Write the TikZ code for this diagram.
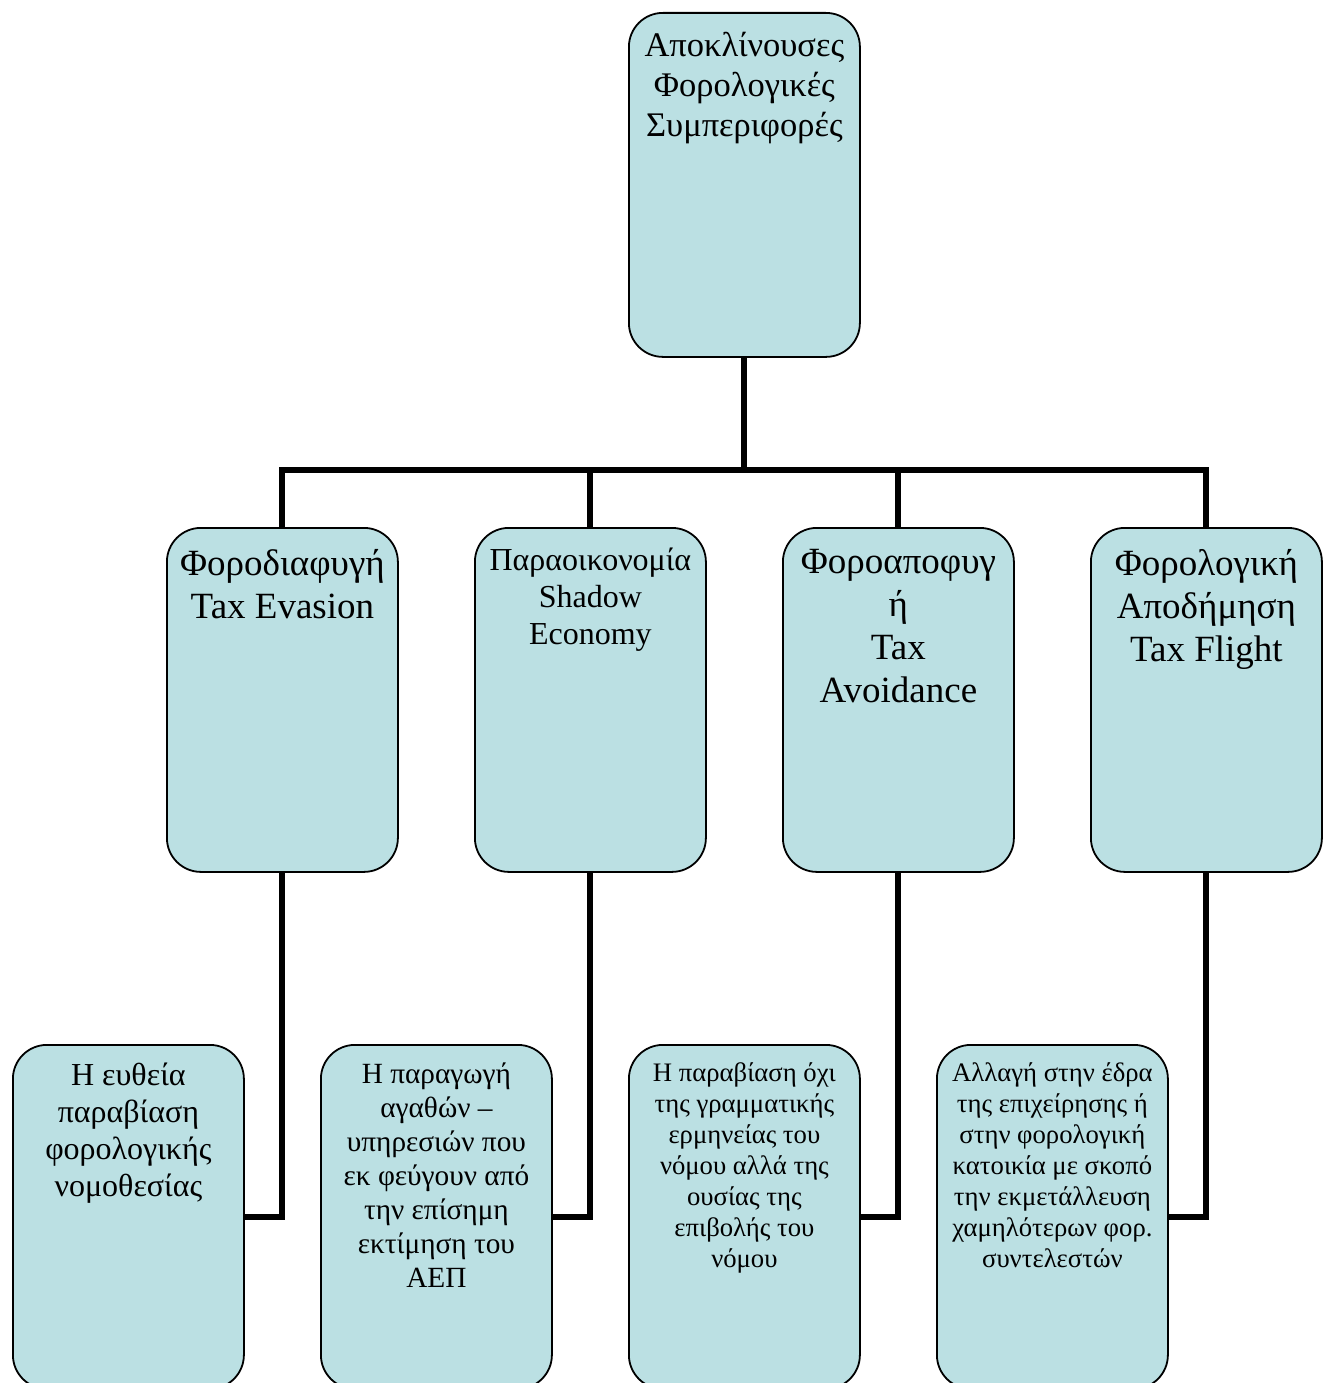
\documentclass[tikz,border=0pt]{standalone}
\usepackage{fontspec}
\setmainfont{Liberation Serif}
\definecolor{boxfill}{RGB}{187,224,227}
\begin{document}
\begin{tikzpicture}[x=1pt,y=-1pt,
  box/.style={draw=black,line width=1.8pt,fill=boxfill,rounded corners=34pt,
    minimum width=231pt,minimum height=344pt,anchor=north west,inner sep=0pt},
  lbl/.style={anchor=north,align=center,inner sep=0pt},
  conn/.style={draw=black,line width=6pt,line join=miter}]
\useasboundingbox (0,0) rectangle (1328,1383);
\clip (0,0) rectangle (1328,1383);

% root
\node[box] (root) at (628,12) {};
% second level
\node[box] (b1) at (166,527) {};
\node[box] (b2) at (474,527) {};
\node[box] (b3) at (782,527) {};
\node[box] (b4) at (1090,527) {};
% third level
\node[box] (c1) at (12,1044) {};
\node[box] (c2) at (320,1044) {};
\node[box] (c3) at (628,1044) {};
\node[box] (c4) at (936,1044) {};

% labels
\node[lbl,font=\fontsize{34.5}{40}\selectfont] (troot) at ([yshift=-20pt]root.north)
  {Αποκλίνουσες\\Φορολογικές\\Συμπεριφορές};
\node[lbl,font=\fontsize{37}{43}\selectfont] (tb1) at ([yshift=-22pt]b1.north)
  {Φοροδιαφυγή\\Tax Evasion};
\node[lbl,font=\fontsize{32}{37}\selectfont] (tb2) at ([yshift=-21pt]b2.north)
  {Παραοικονομία\\Shadow\\Economy};
\node[lbl,font=\fontsize{37}{43}\selectfont] (tb3) at ([yshift=-22pt]b3.north)
  {Φοροαποφυγ\\ή\\Tax\\Avoidance};
\node[lbl,font=\fontsize{37}{43}\selectfont] (tb4) at ([yshift=-22pt]b4.north)
  {Φορολογική\\Αποδήμηση\\Tax Flight};
\node[lbl,font=\fontsize{32}{37}\selectfont] (tc1) at ([yshift=-19pt]c1.north)
  {Η ευθεία\\παραβίαση\\φορολογικής\\νομοθεσίας};
\node[lbl,font=\fontsize{29.3}{34}\selectfont] (tc2) at ([yshift=-19pt]c2.north)
  {Η παραγωγή\\αγαθών –\\υπηρεσιών που\\εκ φεύγουν από\\την επίσημη\\εκτίμηση του\\ΑΕΠ};
\node[lbl,font=\fontsize{26.7}{31}\selectfont] (tc3) at ([yshift=-18pt]c3.north)
  {Η παραβίαση όχι\\της γραμματικής\\ερμηνείας του\\νόμου αλλά της\\ουσίας της\\επιβολής του\\νόμου};
\node[lbl,font=\fontsize{26.7}{31}\selectfont] (tc4) at ([yshift=-18pt]c4.north)
  {Αλλαγή στην έδρα\\της επιχείρησης ή\\στην φορολογική\\κατοικία με σκοπό\\την εκμετάλλευση\\χαμηλότερων φορ.\\συντελεστών};

% connectors
\coordinate (bar) at (743,470);
\draw[conn] (root.south) -- (root.south |- bar);
\draw[conn] (b1.north) -- (b1.north |- bar) -- (b4.north |- bar) -- (b4.north);
\draw[conn] (b2.north) -- (b2.north |- bar);
\draw[conn] (b3.north) -- (b3.north |- bar);
\draw[conn] (b1.south) |- (c1.east);
\draw[conn] (b2.south) |- (c2.east);
\draw[conn] (b3.south) |- (c3.east);
\draw[conn] (b4.south) |- (c4.east);
\end{tikzpicture}
\end{document}
